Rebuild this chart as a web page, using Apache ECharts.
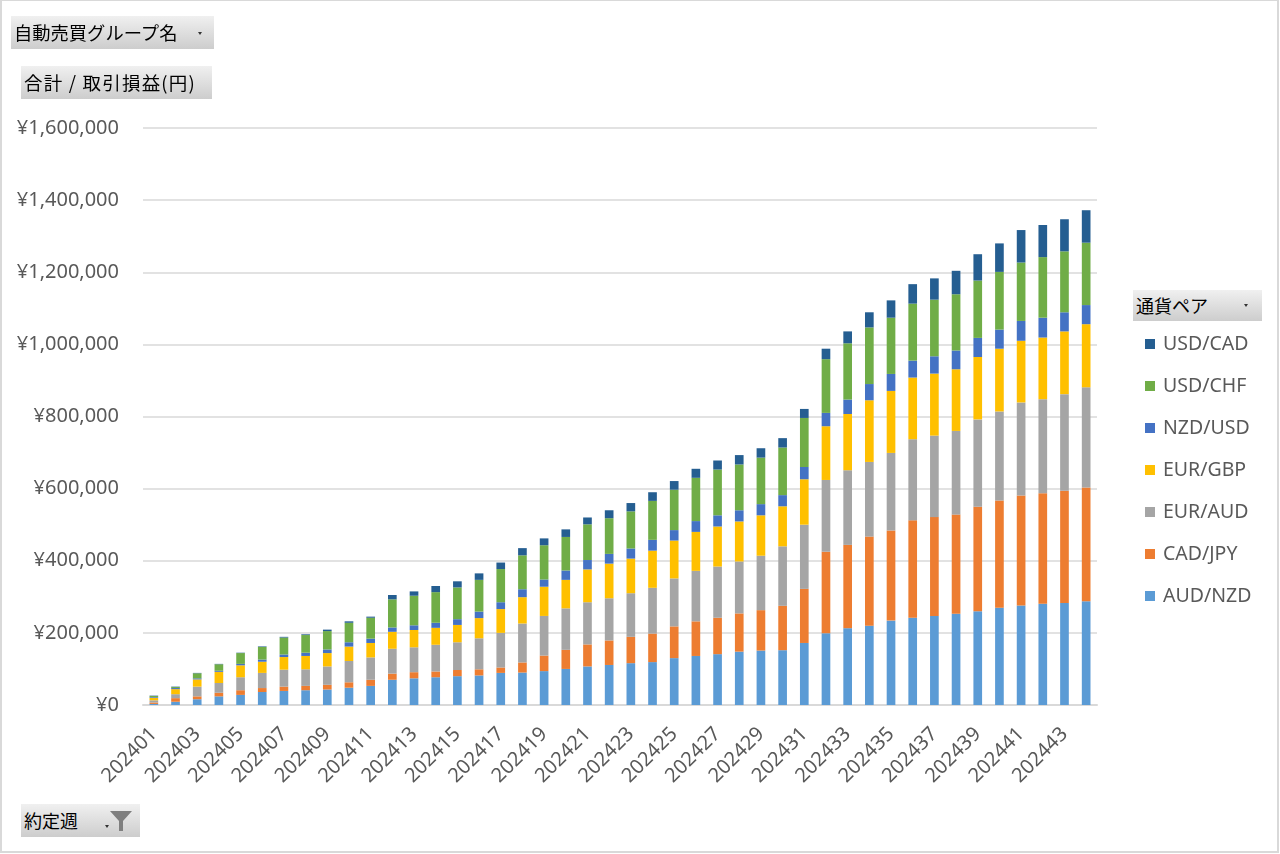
<!DOCTYPE html>
<html lang="ja">
<head>
<meta charset="UTF-8">
<title>約定週別 取引損益</title>
<script src="https://cdn.jsdelivr.net/npm/echarts@6/dist/echarts.min.js"></script>
<style>
  html, body { margin: 0; padding: 0; background: #fff; }
  #frame {
    position: absolute; left: 0; top: 0; width: 1279px; height: 853px;
    box-sizing: border-box; border: 2px solid #d9d9d9; border-top-width: 1px;
  }
  #chart { position: absolute; left: 0; top: 0; width: 1280px; height: 854px; }
  .field-btn {
    position: absolute; box-sizing: border-box; height: 33px;
    background: linear-gradient(#f0f0f0, #cdcdcd);
    font-family: "Noto Sans CJK JP", sans-serif; font-size: 18px; color: #000;
    line-height: 33px; padding-left: 3px; white-space: nowrap;
  }
  .arrow {
    position: absolute; top: 16px; width: 0; height: 0;
    border-left: 2.5px solid transparent; border-right: 2.5px solid transparent;
    border-top: 3px solid #333;
  }
</style>
</head>
<body>
<div id="chart"></div>
<div id="frame"></div>

<div class="field-btn" style="left:11px; top:16px; width:203px; font-size:18.3px;">自動売買グループ名<span class="arrow" style="left:187px;"></span></div>
<div class="field-btn" style="left:21px; top:66px; width:191px; font-size:18.5px; letter-spacing:1.2px;">合計 / 取引損益(円)</div>
<div class="field-btn" style="left:21px; top:804px; width:119px;">約定週<span class="arrow" style="left:84px; top:21px;"></span>
  <svg style="position:absolute; left:88px; top:5px;" width="24" height="24" viewBox="0 0 24 24">
    <path d="M1 2 H23 L14 12 V22 H10 V12 Z" fill="#7f7f7f"/>
  </svg>
</div>
<div class="field-btn" style="left:1133px; top:290px; width:129px; height:31px; line-height:31px;">通貨ペア<span class="arrow" style="left:111px; top:14px;"></span></div>

<script>
// 約定週
const weeks = [
  '202401', '202402', '202403', '202404', '202405', '202406', '202407', '202408', '202409', '202410', '202411',
  '202412', '202413', '202414', '202415', '202416', '202417', '202418', '202419', '202420', '202421', '202422',
  '202423', '202424', '202425', '202426', '202427', '202428', '202429', '202430', '202431', '202432', '202433',
  '202434', '202435', '202436', '202437', '202438', '202439', '202440', '202441', '202442', '202443', '202444'
];

// 通貨ペア別 取引損益(円)
const audNzd = [
  3000, 9000, 16000, 24000, 28000, 36000, 39000, 41000, 43000, 48000, 53000,
  70000, 74000, 77000, 80000, 82000, 89000, 90000, 94000, 100000, 107000, 111000,
  116000, 119000, 130000, 136000, 141000, 148000, 151000, 152000, 172000, 199000, 213000,
  220000, 234000, 242000, 247000, 253000, 260000, 270000, 276000, 281000, 283000, 288000
];
const cadJpy = [
  4000, 10000, 8000, 10000, 13000, 11000, 12000, 12000, 13000, 15000, 17000,
  17000, 17000, 16000, 17000, 17000, 15000, 28000, 43000, 53000, 61000, 68000,
  73000, 79000, 88000, 96000, 101000, 106000, 112000, 123000, 150000, 226000, 231000,
  247000, 250000, 270000, 274000, 275000, 290000, 297000, 305000, 306000, 311000, 315000
];
const eurAud = [
  6000, 11000, 27000, 27000, 36000, 42000, 47000, 46000, 51000, 59000, 62000,
  69000, 69000, 74000, 77000, 86000, 96000, 108000, 110000, 115000, 117000, 117000,
  121000, 127000, 133000, 140000, 142000, 144000, 151000, 165000, 178000, 199000, 207000,
  207000, 215000, 225000, 226000, 232000, 242000, 247000, 258000, 261000, 268000, 278000
];
const eurGbp = [
  7000, 14000, 20000, 31000, 33000, 31000, 35000, 37000, 37000, 40000, 40000,
  47000, 48000, 47000, 48000, 56000, 66000, 73000, 81000, 79000, 91000, 96000,
  96000, 103000, 105000, 108000, 111000, 111000, 112000, 111000, 126000, 149000, 156000,
  171000, 172000, 171000, 172000, 171000, 173000, 174000, 171000, 171000, 174000, 175000
];
const nzdUsd = [
  2000, 3000, 3000, 3000, 4000, 6000, 7000, 9000, 10000, 12000, 12000,
  12000, 13000, 14000, 16000, 18000, 19000, 22000, 20000, 26000, 26000, 27000,
  28000, 30000, 29000, 30000, 31000, 31000, 31000, 31000, 34000, 37000, 40000,
  45000, 47000, 47000, 48000, 52000, 53000, 53000, 55000, 55000, 53000, 53000
];
const usdChf = [
  3000, 3000, 14000, 18000, 30000, 35000, 47000, 49000, 51000, 54000, 58000,
  78000, 82000, 85000, 88000, 88000, 92000, 94000, 95000, 93000, 99000, 99000,
  103000, 108000, 112000, 120000, 127000, 127000, 129000, 132000, 136000, 149000, 156000,
  157000, 156000, 158000, 157000, 156000, 159000, 160000, 162000, 168000, 169000, 173000
];
const usdCad = [
  1000, 1000, 1000, 1000, 1000, 1500, 2000, 2000, 4000, 4000, 3000,
  12000, 12000, 17000, 17000, 18000, 18000, 20000, 19000, 21000, 19000, 22000,
  23000, 24000, 24000, 25000, 25000, 26000, 26000, 26000, 25000, 29000, 33000,
  42000, 48000, 54000, 59000, 65000, 73000, 79000, 90000, 89000, 89000, 90000
];

const pairs = [
  { name: 'AUD/NZD', data: audNzd, color: '#5b9bd5' },
  { name: 'CAD/JPY', data: cadJpy, color: '#ed7d31' },
  { name: 'EUR/AUD', data: eurAud, color: '#a5a5a5' },
  { name: 'EUR/GBP', data: eurGbp, color: '#ffc000' },
  { name: 'NZD/USD', data: nzdUsd, color: '#4472c4' },
  { name: 'USD/CHF', data: usdChf, color: '#70ad47' },
  { name: 'USD/CAD', data: usdCad, color: '#255e91' }
];

const textColor = '#595959';
const latinFont = '"Noto Sans", "Noto Sans CJK JP", sans-serif';

const chart = echarts.init(document.getElementById('chart'));
chart.setOption({
  animation: false,
  textStyle: { fontFamily: latinFont },
  grid: { left: 143, right: 183, top: 128, bottom: 149, containLabel: false },
  legend: {
    orient: 'vertical',
    left: 1140,
    top: 328,
    icon: 'rect',
    itemWidth: 10,
    itemHeight: 10,
    itemGap: 20,
    data: pairs.map(p => p.name).reverse(),
    textStyle: { color: textColor, fontSize: 19.5, fontFamily: latinFont, lineHeight: 22, padding: [0, 0, 0, 3] }
  },
  xAxis: {
    type: 'category',
    data: weeks,
    axisLine: { lineStyle: { color: '#d9d9d9', width: 2 } },
    axisTick: { length: 6, lineStyle: { color: '#d9d9d9', width: 1.5 } },
    axisLabel: { interval: 1, rotate: 45, color: textColor, fontSize: 20, margin: 26 }
  },
  yAxis: {
    type: 'value',
    min: 0,
    max: 1600000,
    interval: 200000,
    axisLine: { show: false },
    axisTick: { show: false },
    splitLine: { lineStyle: { color: '#d9d9d9', width: 1.5 } },
    axisLabel: {
      color: textColor, fontSize: 20, margin: 24,
      formatter: v => '¥' + v.toLocaleString('en-US')
    }
  },
  series: pairs.map(p => ({
    name: p.name,
    type: 'bar',
    stack: 'total',
    barWidth: '40%',
    data: p.data,
    itemStyle: { color: p.color }
  }))
});
</script>
</body>
</html>
